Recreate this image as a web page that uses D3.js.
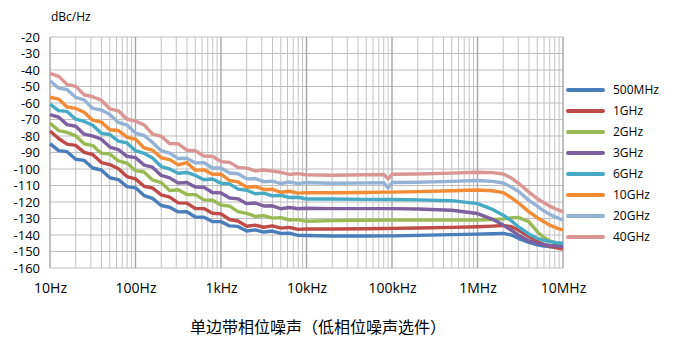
<!DOCTYPE html>
<meta charset="utf-8">
<script src="https://d3js.org/d3.v7.min.js"></script>
<style>
  body { margin: 0; background: #fff; }
  text { font-family: "Noto Sans CJK SC", "Noto Sans", sans-serif; }
</style>
<body>
<div id="chart"></div>
<script>
  // frequency points (Hz) shared by all traces
  const freqs = [10, 12.6, 15.8, 20, 25.1, 31.6, 39.8, 50.1, 63.1, 79.4,
    100, 126, 158, 200, 251, 316, 398, 501, 631, 794,
    1000, 1260, 1580, 2000, 2510, 3160, 3980, 5010, 6310, 7940,
    10000, 20000, 50000, 80000, 90000, 100000, 200000, 500000,
    1e6, 1.5e6, 2e6, 2.5e6, 3e6, 4e6, 5e6, 6e6, 7e6, 8.5e6, 1e7];

  const names = ["500MHz", "1GHz", "2GHz", "3GHz", "6GHz", "10GHz", "20GHz", "40GHz"];
  const colors = ["#4a7ebb", "#be4b48", "#98b954", "#7d60a0", "#46aac5", "#f38b35", "#94b2d6", "#d99694"];

  // phase noise in dBc/Hz
  const n500M = [-84.6, -88.9, -89.5, -94.1, -94.8, -99.4, -100.6, -105.3, -106.4, -110.7,
    -111.4, -116.1, -117.8, -122.1, -123.2, -126, -125.9, -129.1, -129.2, -131.8,
    -131.9, -134.5, -134.8, -137.6, -136.9, -138.2, -137.6, -139, -138.9, -140.2,
    -140.3, -140.6, -140.6, -140.5, -140.5, -140.5, -140.2, -139.8,
    -139.5, -139.2, -139, -140, -142, -144.5, -146, -146.7, -147, -147.3, -147.5];
  const n1G = [-77, -81.5, -84.9, -85.7, -89.9, -91.2, -96.1, -97.3, -99.8, -104.6,
    -106, -110.5, -111.5, -115.7, -117, -120.5, -120.7, -123.9, -124, -126.8,
    -127.2, -130.6, -131.5, -134.7, -134, -135.3, -134.5, -135.8, -135.4, -136.6,
    -136.3, -136.4, -136.2, -136.1, -136.1, -136, -135.8, -135.4,
    -135, -134.6, -134.2, -135, -137, -141, -144, -145.8, -146.8, -147.8, -148.5];
  const n2G = [-72.2, -76.7, -77.8, -79.9, -84.7, -85.8, -90.4, -90.9, -95.1, -96.4,
    -101, -101.8, -106.6, -108.2, -113.1, -112.6, -115.5, -115.5, -118.7, -118.9,
    -121.8, -122.5, -125.8, -126.9, -128.7, -128.3, -129.8, -129.5, -130.9, -130.7,
    -131.7, -131.3, -131.1, -131, -131, -131, -131, -131,
    -131, -130.6, -130.2, -129.6, -129.3, -132, -138, -141.5, -143.5, -145.2, -146];
  const n3G = [-67, -68.5, -73.1, -74.1, -78.9, -80, -81.9, -86.7, -88.2, -92.3,
    -93.1, -97.6, -98.9, -103.9, -105.4, -108.5, -108.2, -110.9, -111.1, -114.2,
    -114.5, -117.6, -118.1, -121, -120.6, -122.4, -122.3, -124.1, -123.3, -124.1,
    -123.8, -124, -124, -124, -124, -124, -124.2, -125,
    -127, -130.5, -134, -137.2, -140, -143.5, -145, -145.8, -146.3, -146.7, -147];
  const n6G = [-60.7, -64.6, -65.1, -69.8, -71.2, -73.5, -78.4, -79.1, -83.1, -84.2,
    -88.9, -90.5, -93.3, -98.5, -100, -102.6, -102.1, -103.9, -106.5, -106.1,
    -108.6, -109, -112.2, -112.9, -115, -114.6, -116.3, -115.9, -117.3, -117.1,
    -118.2, -118.2, -118.4, -118.5, -118.5, -118.5, -118.7, -119.2,
    -121, -124.5, -128, -131.5, -135, -139.5, -142, -143.2, -144, -144.6, -145];
  const n10G = [-56.5, -57.6, -62.4, -63.3, -65.6, -70.4, -71.6, -76.2, -76.7, -80.7,
    -82, -87.2, -88.6, -93.2, -94.3, -97.5, -96.1, -100.7, -100.5, -103.2,
    -103.1, -107, -107.8, -111.1, -110.6, -112.4, -112.3, -114.1, -113.5, -114.6,
    -114.3, -114.4, -114.2, -114, -114, -114, -113.7, -113.2,
    -112.7, -113.2, -114.3, -117.5, -120.5, -126, -129.5, -132, -134, -135.8, -137];
  const n20G = [-46.5, -51, -51.8, -56.6, -58.1, -63.3, -64.3, -67, -71.8, -73.4,
    -78.2, -79.7, -83.9, -88.9, -90.4, -93.6, -93.5, -96.3, -96.2, -99.4,
    -99.4, -102.4, -102.9, -106, -105.8, -107.7, -107.4, -108.8, -107.9, -108.9,
    -108.2, -108.6, -108.4, -108.3, -111.5, -108.2, -108, -107.5,
    -107, -107.5, -108.5, -111, -113.5, -119, -122.5, -125.5, -127.5, -129.5, -131];
  const n40G = [-42, -43.8, -48.7, -49.9, -55, -56.2, -58.3, -63.5, -64.8, -69.7,
    -71, -73.3, -78.8, -80.2, -84.6, -84.7, -88.6, -88.9, -92.1, -92.3,
    -95.5, -96, -99, -99.5, -101.2, -100.6, -101.3, -102, -103.3, -102.8,
    -103.5, -103.8, -103.5, -103.3, -106, -103.2, -103, -102.5,
    -102, -102.2, -103, -105.5, -108.5, -114, -118, -120.5, -122.5, -124.5, -126];

  const yTicks = d3.range(-160, -19, 10);
  const xTicks = [10, 100, 1e3, 1e4, 1e5, 1e6, 1e7];
  const xTickLabels = ["10Hz", "100Hz", "1kHz", "10kHz", "100kHz", "1MHz", "10MHz"];

  const series = [n500M, n1G, n2G, n3G, n6G, n10G, n20G, n40G].map((v, i) => ({
    name: names[i], color: colors[i],
    values: v.map((d, j) => ({f: freqs[j], db: d}))
  }));

  const width = 683, height = 346;
  const svg = d3.select("#chart").append("svg")
      .attr("width", width)
      .attr("height", height);

  const x = d3.scaleLog().domain([10, 1e7]).range([50, 563]);
  const y = d3.scaleLinear().domain([-160, -20]).range([268, 37]);

  // grid: minor log lines, then decades
  const minor = [];
  for (let dec = 10; dec < 1e7; dec *= 10)
    for (let k = 2; k <= 9; k++) minor.push(dec * k);

  const grid = svg.append("g");
  grid.selectAll("line.minor")
    .data(minor)
    .join("line")
      .attr("x1", d => x(d)).attr("x2", d => x(d))
      .attr("y1", y(-20)).attr("y2", y(-160))
      .attr("stroke", "#c3c3c3")
      .attr("stroke-width", 1);
  grid.selectAll("line.h")
    .data(yTicks)
    .join("line")
      .attr("x1", x(10)).attr("x2", x(1e7))
      .attr("y1", d => y(d)).attr("y2", d => y(d))
      .attr("stroke", "#bdbdbd")
      .attr("stroke-width", 1);
  grid.selectAll("line.major")
    .data(xTicks)
    .join("line")
      .attr("x1", d => x(d)).attr("x2", d => x(d))
      .attr("y1", y(-20)).attr("y2", y(-160))
      .attr("stroke", "#a5a5a5")
      .attr("stroke-width", 1.4);

  // y axis labels
  const yAxis = svg.append("g")
      .attr("transform", `translate(${x(10) - 8},0)`)
      .call(d3.axisLeft(y).tickValues(yTicks).tickSize(0).tickFormat(d => d));
  yAxis.select(".domain").remove();
  yAxis.selectAll("text")
      .attr("x", -2)
      .style("font-size", "13px")
      .style("font-family", "'Open Sans', sans-serif")
      .attr("fill", "#000");

  // x axis labels
  const xAxis = svg.append("g")
      .attr("transform", `translate(0,${y(-160) + 12})`)
      .call(d3.axisBottom(x).tickValues(xTicks).tickSize(0)
        .tickFormat((d, i) => xTickLabels[i]));
  xAxis.select(".domain").remove();
  xAxis.selectAll("text")
      .style("font-size", "14px")
      .style("font-family", "'Open Sans', sans-serif")
      .attr("fill", "#000");

  svg.append("text")
      .attr("x", 51).attr("y", 21)
      .style("font-size", "12px")
      .style("font-family", "'Open Sans', sans-serif")
      .text("dBc/Hz");

  // traces
  const line = d3.line()
      .x(d => x(d.f))
      .y(d => y(d.db));

  svg.append("g")
    .selectAll("path")
    .data(series)
    .join("path")
      .attr("d", d => line(d.values))
      .attr("fill", "none")
      .attr("stroke", d => d.color)
      .attr("stroke-width", 3.4)
      .attr("stroke-linejoin", "round");

  // legend
  const legend = svg.append("g")
    .selectAll("g")
    .data(series)
    .join("g")
      .attr("transform", (d, i) => `translate(568,${90 + i * 21})`);
  legend.append("line")
      .attr("x1", 0).attr("x2", 35)
      .attr("stroke", d => d.color)
      .attr("stroke-width", 4)
      .attr("stroke-linecap", "round");
  legend.append("text")
      .attr("x", 45).attr("y", 0)
      .attr("dy", "0.35em")
      .style("font-size", "12px")
      .style("font-family", "'Open Sans', sans-serif")
      .text(d => d.name);

  // caption
  svg.append("text")
      .attr("x", 318).attr("y", 333)
      .attr("text-anchor", "middle")
      .style("font-size", "16px")
      .text("单边带相位噪声（低相位噪声选件）");
</script>
</body>
